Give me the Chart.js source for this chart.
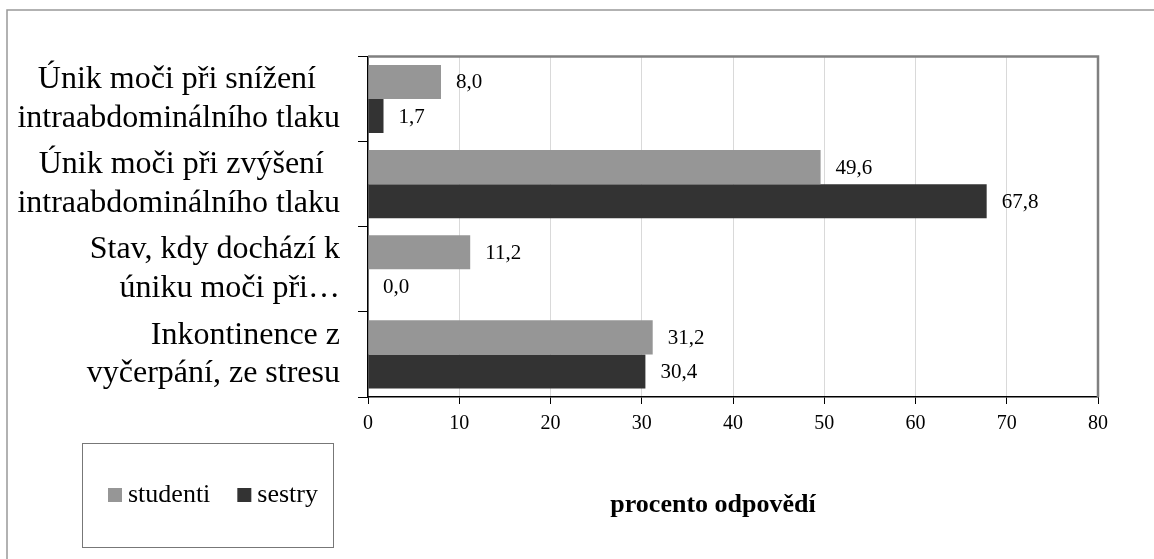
<!DOCTYPE html>
<html>
<head>
<meta charset="utf-8">
<script src="https://cdn.jsdelivr.net/npm/chart.js@4.4.1/dist/chart.umd.min.js"></script>
<style>
  body { margin: 0; background: #fff; }
  canvas { display: block; }
</style>
</head>
<body>
<canvas id="myChart" width="1154" height="559"></canvas>
<script>
// data (trailing spaces keep the wrapped first lines offset like in the original)
const categories = [
    ['Únik moči při snížení   ', 'intraabdominálního tlaku'],
    ['Únik moči při zvýšení  ', 'intraabdominálního tlaku'],
    ['Stav, kdy dochází k', 'úniku moči při…'],
    ['Inkontinence z', 'vyčerpání, ze stresu']
];
const studenti = [8.0, 49.6, 11.2, 31.2];
const sestry = [1.7, 67.8, 0.0, 30.4];
const seriesNames = ['studenti', 'sestry'];
const axisTitle = 'procento odpovědí';

const serif = "'Liberation Serif', 'Times New Roman', serif";

// labels with comma decimals to the right of each bar
const valueLabels = {
    id: 'valueLabels',
    afterDatasetsDraw(chart) {
        const ctx = chart.ctx;
        ctx.save();
        ctx.font = '21px ' + serif;
        ctx.fillStyle = '#000';
        ctx.textAlign = 'left';
        ctx.textBaseline = 'middle';
        chart.data.datasets.forEach((ds, i) => {
            chart.getDatasetMeta(i).data.forEach((bar, j) => {
                const txt = ds.data[j].toFixed(1).replace('.', ',');
                ctx.fillText(txt, bar.x + 15, bar.y + 1);
            });
        });
        ctx.restore();
    }
};

// frame, legend box and axis title
const decorations = {
    id: 'decorations',
    afterDraw(chart) {
        const ctx = chart.ctx;
        const a = chart.chartArea;
        ctx.save();
        // outer frame (cut off at right and bottom)
        ctx.strokeStyle = '#999';
        ctx.lineWidth = 1.5;
        ctx.beginPath();
        ctx.moveTo(7, 559);
        ctx.lineTo(7, 10);
        ctx.lineTo(1154, 10);
        ctx.stroke();
        // plot area top + right border
        ctx.strokeStyle = '#808080';
        ctx.lineWidth = 2.5;
        ctx.beginPath();
        ctx.moveTo(a.left, a.top);
        ctx.lineTo(a.right, a.top);
        ctx.lineTo(a.right, a.bottom);
        ctx.stroke();
        // legend
        ctx.strokeStyle = '#777';
        ctx.lineWidth = 1;
        ctx.strokeRect(82.5, 443.5, 251, 104);
        ctx.font = '26px ' + serif;
        ctx.textBaseline = 'middle';
        ctx.textAlign = 'left';
        let x = 108;
        chart.data.datasets.forEach(ds => {
            ctx.fillStyle = ds.backgroundColor;
            ctx.fillRect(x, 488, 14, 14);
            ctx.fillStyle = '#000';
            ctx.fillText(ds.label, x + 20, 495);
            x += 20 + ctx.measureText(ds.label).width + 27;
        });
        // axis title
        ctx.font = 'bold 26px ' + serif;
        ctx.textAlign = 'center';
        ctx.fillText(axisTitle, 713, 505);
        ctx.restore();
    }
};

const ctx = document.getElementById('myChart').getContext('2d');
const myChart = new Chart(ctx, {
    type: 'bar',
    data: {
        labels: categories,
        datasets: [{
            label: seriesNames[0],
            data: studenti,
            backgroundColor: '#969696',
            categoryPercentage: 0.8,
            barPercentage: 1.0
        }, {
            label: seriesNames[1],
            data: sestry,
            backgroundColor: '#333333',
            categoryPercentage: 0.8,
            barPercentage: 1.0
        }]
    },
    options: {
        indexAxis: 'y',
        responsive: false,
        animation: false,
        layout: {
            padding: {top: 48, right: 56, left: 0, bottom: 0}
        },
        plugins: {
            legend: {display: false},
            tooltip: {enabled: false}
        },
        scales: {
            x: {
                min: 0,
                max: 80,
                ticks: {
                    stepSize: 10,
                    color: '#000',
                    padding: 8,
                    font: {family: serif, size: 20}
                },
                grid: {
                    color: '#d9d9d9',
                    tickColor: '#000',
                    tickLength: 7
                },
                border: {color: '#000', width: 1.5},
                afterFit: scale => { scale.height = 162; }
            },
            y: {
                ticks: {
                    color: '#000',
                    padding: 18,
                    font: {family: serif, size: 32, lineHeight: 1.2}
                },
                grid: {
                    offset: true,
                    drawOnChartArea: false,
                    tickColor: '#000',
                    tickLength: 10
                },
                border: {color: '#000', width: 1.5},
                afterFit: scale => { scale.width = 368; }
            }
        }
    },
    plugins: [valueLabels, decorations]
});
</script>
</body>
</html>
